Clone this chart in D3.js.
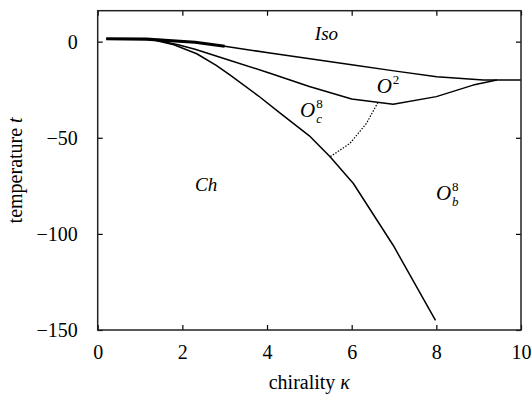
<!DOCTYPE html>
<html>
<head>
<meta charset="utf-8">
<script src="https://cdn.jsdelivr.net/npm/d3@7"></script>
<style>
  body { margin: 0; background: #fff; }
  svg { display: block; }
  text { font-family: "Liberation Serif", "Times New Roman", serif; fill: #000; }
</style>
</head>
<body>
<div id="chart"></div>
<script>
// phase boundaries (kappa, t)
const isoKappa = [0.2, 1.15, 2.3, 3.0, 4.07, 6.04, 7.0, 8.01, 9.11, 10];
const isoT = [1.5, 1.3, -0.3, -2.4, -5.9, -12.1, -15.2, -18.2, -19.9, -20];

const thickKappa = [0.2, 1.15, 2.3, 3.0];
const thickT = [1.5, 1.3, -0.3, -2.4];

const o2Kappa = [1.3, 1.9, 2.3, 3.13, 4.07, 5.0, 6.0, 6.98, 8.0, 8.87, 9.43];
const o2T = [1.1, -1.6, -4.0, -9.8, -16.4, -23.3, -29.8, -32.6, -28.6, -22.6, -20];

const chKappa = [1.25, 1.8, 2.34, 2.8, 3.13, 3.83, 4.31, 5.0, 5.49, 6.04, 6.98, 7.98];
const chT = [1.2, -1.6, -6.3, -12.3, -17.4, -28.8, -37.2, -49.0, -59.9, -73.8, -105.9, -145];

const dotKappa = [6.62, 6.35, 5.96, 5.49];
const dotT = [-31.6, -42.5, -52.9, -59.9];

const xTicks = [0, 2, 4, 6, 8, 10];
const yTicks = [0, -50, -100, -150];

// region labels: [text, sup, sub, kappa, t]
const regionLabels = [
  ["Iso", "", "", 5.13, 0.9],
  ["Ch", "", "", 2.3, -77.8],
  ["O", "2", "", 6.59, -26.7],
  ["O", "8", "c", 4.78, -39.2],
  ["O", "8", "b", 7.99, -82.5]
];

const zip = (ks, ts) => ks.map((k, i) => ({ k, t: ts[i] }));

const width = 532;
const height = 397;
const margin = { top: 10.7, right: 11, bottom: 67, left: 97.7 };

const svg = d3
  .select("#chart")
  .append("svg")
  .attr("width", width)
  .attr("height", height);

const x = d3
  .scaleLinear()
  .domain([0, 10])
  .range([margin.left, width - margin.right]);

const y = d3
  .scaleLinear()
  .domain([-150, 16.1])
  .range([height - margin.bottom, margin.top]);

const line = d3
  .line()
  .x((d) => x(d.k))
  .y((d) => y(d.t));

// curves
const curves = [
  [zip(isoKappa, isoT), 1.5, null],
  [zip(thickKappa, thickT), 3.2, null],
  [zip(o2Kappa, o2T), 1.5, null],
  [zip(chKappa, chT), 1.5, null],
  [zip(dotKappa, dotT), 1.2, "1.5,1.5"]
];

curves.forEach(([pts, sw, dash]) => {
  svg
    .append("path")
    .datum(pts)
    .attr("fill", "none")
    .attr("stroke", "#000")
    .attr("stroke-width", sw)
    .attr("stroke-linejoin", "round")
    .attr("stroke-dasharray", dash)
    .attr("d", line);
});

// axes (ticks point inward on all four sides)
const bottom = height - margin.bottom;
const right = width - margin.right;

svg
  .append("g")
  .attr("transform", `translate(0,${bottom})`)
  .call(d3.axisBottom(x).tickValues(xTicks).tickSize(-5).tickPadding(15).tickFormat(d3.format("d")))
  .call((g) => g.select(".domain").remove())
  .call((g) => g.selectAll("text").style("font-size", "20px"));

svg
  .append("g")
  .attr("transform", `translate(0,${margin.top})`)
  .call(d3.axisTop(x).tickValues(xTicks).tickSize(-5).tickFormat(""))
  .call((g) => g.select(".domain").remove());

svg
  .append("g")
  .attr("transform", `translate(${margin.left},0)`)
  .call(d3.axisLeft(y).tickValues(yTicks).tickSize(-5).tickPadding(20).tickFormat(d3.format("d")))
  .call((g) => g.select(".domain").remove())
  .call((g) => g.selectAll("text").style("font-size", "20px"));

svg
  .append("g")
  .attr("transform", `translate(${right},0)`)
  .call(d3.axisRight(y).tickValues(yTicks).tickSize(-5).tickFormat(""))
  .call((g) => g.select(".domain").remove());

svg.selectAll(".tick line").attr("stroke", "#000").attr("stroke-width", 1.2);

// frame
svg
  .append("rect")
  .attr("x", margin.left)
  .attr("y", margin.top)
  .attr("width", right - margin.left)
  .attr("height", bottom - margin.top)
  .attr("fill", "none")
  .attr("stroke", "#222")
  .attr("stroke-width", 1.5);

// axis titles
const xt = svg
  .append("text")
  .attr("x", (margin.left + right) / 2)
  .attr("y", 389)
  .attr("text-anchor", "middle")
  .style("font-size", "20px");
xt.append("tspan").text("chirality ");
xt.append("tspan").style("font-style", "italic").text("κ");

const yt = svg
  .append("text")
  .attr("transform", `translate(22,${(margin.top + bottom) / 2}) rotate(-90)`)
  .attr("text-anchor", "middle")
  .style("font-size", "20px");
yt.append("tspan").text("temperature ");
yt.append("tspan").style("font-style", "italic").text("t");

// region labels (script parts share one text element)
regionLabels.forEach(([main, sup, sub, k, t]) => {
  const txt = svg
    .append("text")
    .attr("x", x(k))
    .attr("y", y(t));
  txt
    .append("tspan")
    .style("font-size", main === "O" ? "21px" : "19px")
    .style("font-style", "italic")
    .text(main);
  const w = txt.node().getComputedTextLength();
  if (sup) {
    txt
      .append("tspan")
      .attr("x", x(k) + w + 1)
      .attr("y", y(t) - 9)
      .style("font-size", "13px")
      .text(sup);
  }
  if (sub) {
    txt
      .append("tspan")
      .attr("x", x(k) + w + 1)
      .attr("y", y(t) + 6)
      .style("font-size", "13px")
      .style("font-style", "italic")
      .text(sub);
  }
});
</script>
</body>
</html>
